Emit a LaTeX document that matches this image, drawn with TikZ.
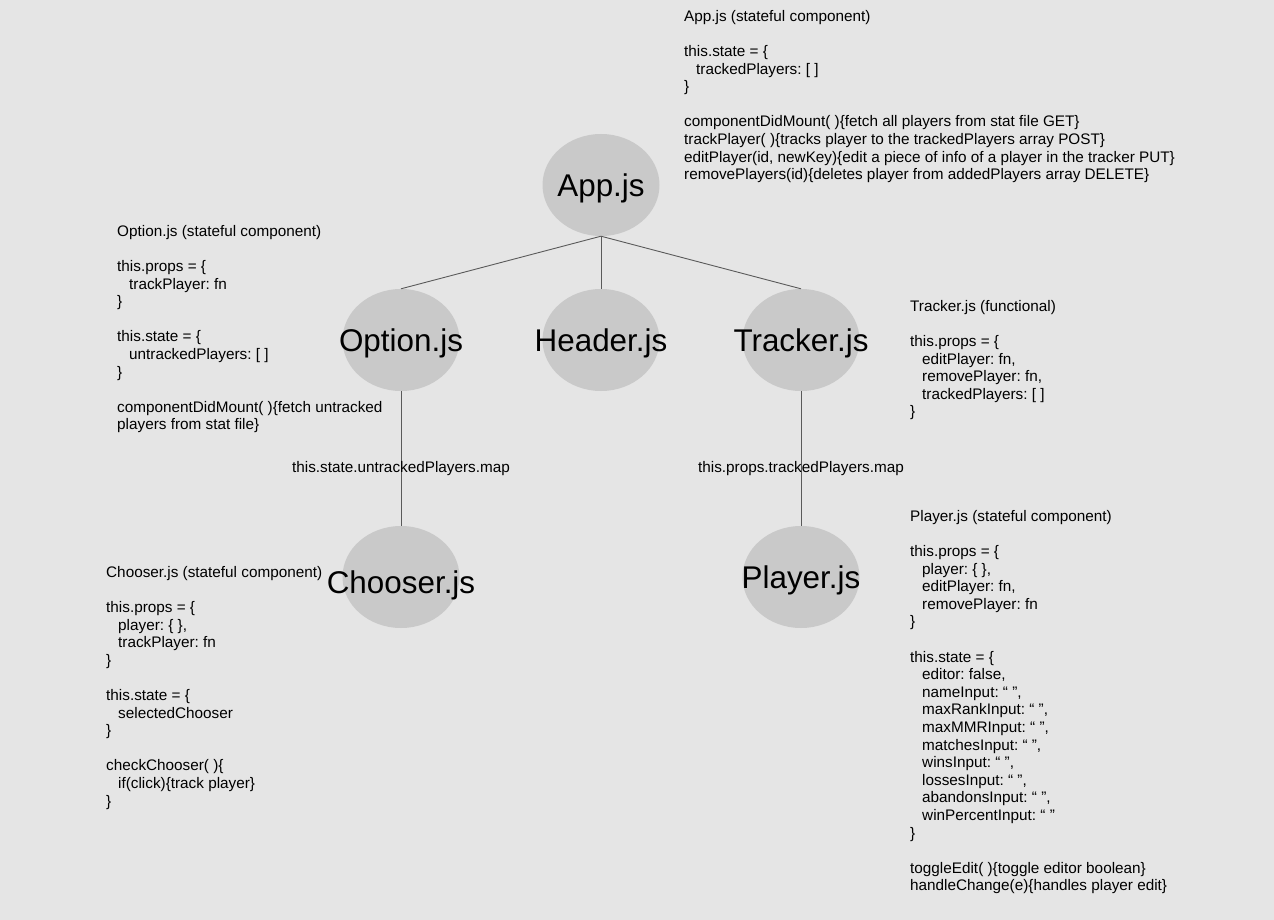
\documentclass[tikz,border=0pt]{standalone}
\usepackage{fontspec}
\setmainfont{Liberation Sans}
\usetikzlibrary{shapes.geometric}
\definecolor{bg}{HTML}{E5E5E5}
\definecolor{ellfill}{HTML}{C9C9C9}
\definecolor{edgecol}{HTML}{5A5A5A}
\newcommand\ind{\hspace*{12pt}}
\frenchspacing
\begin{document}
\frenchspacing
\begin{tikzpicture}[x=1pt,y=-1pt,
  comp/.style={ellipse, fill=ellfill, draw=none, minimum width=117pt, minimum height=102pt, inner sep=0pt},
  big/.style={font=\fontsize{31.4}{36}\selectfont, inner sep=0pt, anchor=base, text=black},
  note/.style={font=\fontsize{15.3}{17.6}\selectfont\frenchspacing, align=left, anchor=north west, inner sep=0pt, text=black},
  elabel/.style={font=\fontsize{15.3}{17.6}\selectfont, inner sep=0pt, text=black},
  link/.style={draw=edgecol, line width=0.9pt}]
\fill[bg] (0,0) rectangle (1274,920);
\useasboundingbox (0,0) rectangle (1274,920);

% component ellipses
\node[comp] (app) at (601,185) {};
\node[comp] (option) at (401,340) {};
\node[comp] (header) at (601,340) {};
\node[comp] (tracker) at (801,340) {};
\node[comp] (chooser) at (401,577) {};
\node[comp] (player) at (801,577) {};

% connectors
\draw[link] (app.south) -- (option.north);
\draw[link] (app.south) -- (header.north);
\draw[link] (app.south) -- (tracker.north);
\draw[link] (option.south) -- node[elabel, pos=0.578] (mapu) {this.state.untrackedPlayers.map} (chooser.north);
\draw[link] (tracker.south) -- node[elabel, pos=0.578] (mapt) {this.props.trackedPlayers.map} (player.north);

% component names
\node[big, yshift=-11.2pt] (appl) at (app) {App.js};
\node[big, yshift=-11.2pt] (optionl) at (option) {Option.js};
\node[big, yshift=-11.2pt] (headerl) at (header) {Header.js};
\node[big, yshift=-11.2pt] (trackerl) at (tracker) {Tracker.js};
\node[big, yshift=-16pt] (chooserl) at (chooser) {Chooser.js};
\node[big, yshift=-11.2pt] (playerl) at (player) {Player.js};

% notes
\node[note] (appnote) at (684,10) {App.js (stateful component)\\[17.6pt]
this.state = \{\\
\ind trackedPlayers: [ ]\\
\}\\[17.6pt]
componentDidMount( )\{fetch all players from stat file GET\}\\
trackPlayer( )\{tracks player to the trackedPlayers array POST\}\\
editPlayer(id, newKey)\{edit a piece of info of a player in the tracker PUT\}\\
removePlayers(id)\{deletes player from addedPlayers array DELETE\}};

\node[note] (optionnote) at (117,225) {Option.js (stateful component)\\[17.6pt]
this.props = \{\\
\ind trackPlayer: fn\\
\}\\[17.6pt]
this.state = \{\\
\ind untrackedPlayers: [ ]\\
\}\\[17.6pt]
componentDidMount( )\{fetch untracked\\
players from stat file\}};

\node[note] (trackernote) at (910,300) {Tracker.js (functional)\\[17.6pt]
this.props = \{\\
\ind editPlayer: fn,\\
\ind removePlayer: fn,\\
\ind trackedPlayers: [ ]\\
\}};

\node[note] (choosernote) at (106,566) {Chooser.js (stateful component)\\[17.6pt]
this.props = \{\\
\ind player: \{ \},\\
\ind trackPlayer: fn\\
\}\\[17.6pt]
this.state = \{\\
\ind selectedChooser\\
\}\\[17.6pt]
checkChooser( )\{\\
\ind if(click)\{track player\}\\
\}};

\node[note] (playernote) at (910,510) {Player.js (stateful component)\\[17.6pt]
this.props = \{\\
\ind player: \{ \},\\
\ind editPlayer: fn,\\
\ind removePlayer: fn\\
\}\\[17.6pt]
this.state = \{\\
\ind editor: false,\\
\ind nameInput: “ ”,\\
\ind maxRankInput: “ ”,\\
\ind maxMMRInput: “ ”,\\
\ind matchesInput: “ ”,\\
\ind winsInput: “ ”,\\
\ind lossesInput: “ ”,\\
\ind abandonsInput: “ ”,\\
\ind winPercentInput: “ ”\\
\}\\[17.6pt]
toggleEdit( )\{toggle editor boolean\}\\
handleChange(e)\{handles player edit\}};
\end{tikzpicture}
\end{document}
